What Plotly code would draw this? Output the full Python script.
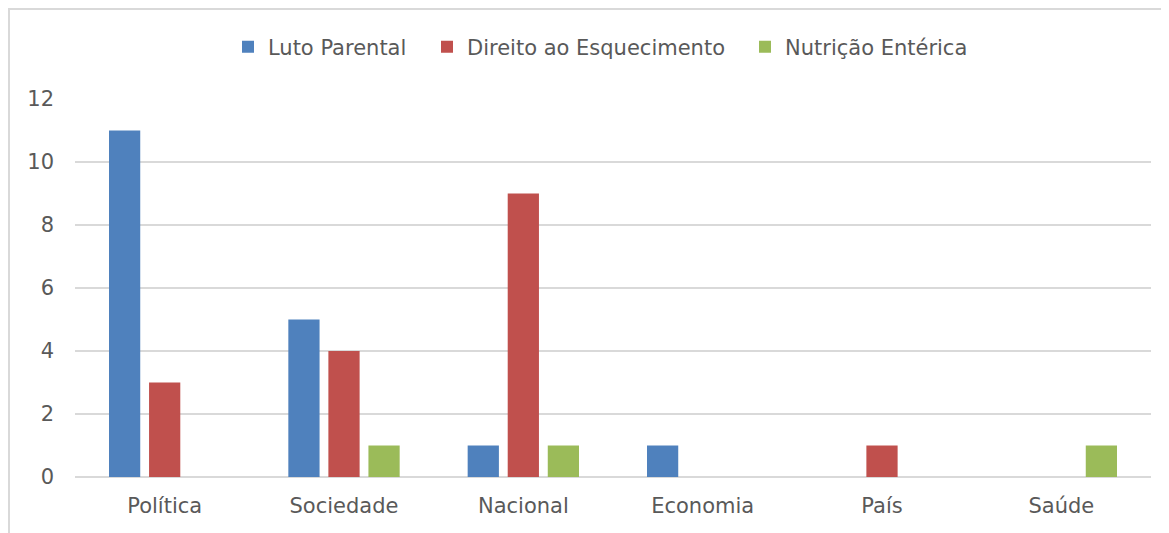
import plotly.graph_objects as go

categories = ["Política", "Sociedade", "Nacional", "Economia", "País", "Saúde"]
luto_parental = [11, 5, 1, 1, 0, 0]
direito_esquecimento = [3, 4, 9, 0, 1, 0]
nutricao_enterica = [0, 1, 1, 0, 0, 1]

series = [
    ("Luto Parental", luto_parental, "#4F81BD"),
    ("Direito ao Esquecimento", direito_esquecimento, "#C0504D"),
    ("Nutrição Entérica", nutricao_enterica, "#9BBB59"),
]

# page has an 8px body margin, so the figure is a bit smaller than the window
W, H = 1161, 525
ML, MR, MT, MB = 67, 18, 91, 56
FONT = 21

fig = go.Figure()
legend_ids = ["legend", "legend2", "legend3"]
for (name, vals, col), lg in zip(series, legend_ids):
    fig.add_trace(go.Bar(x=categories, y=vals, name=name, marker_color=col,
                         marker_line_width=0, legend=lg))

# outer chart frame (left and top edges visible)
px_w = W - ML - MR
px_h = H - MT - MB
fx = (1 - ML) / px_w
fy = (H - MB - 1) / px_h
fig.add_shape(type="path", xref="paper", yref="paper",
              path=f"M {fx} -0.3 L {fx} {fy} L 1.1 {fy}",
              line=dict(color="#D9D9D9", width=2))

# one legend per series so each entry sits where the reference has it
legend_marker_x = [240, 439, 757]
legends = {}
for lg, mx in zip(legend_ids, legend_marker_x):
    legends[lg] = dict(orientation="h", x=(mx - 20) / W, xanchor="left", xref="container",
                       y=1 - 39 / H, yref="container", yanchor="middle",
                       font=dict(size=FONT, color="#595959"), itemwidth=30,
                       bgcolor="rgba(0,0,0,0)")

fig.update_layout(
    width=W, height=H,
    margin=dict(l=ML, r=MR, t=MT, b=MB, autoexpand=False),
    paper_bgcolor="white", plot_bgcolor="white",
    font=dict(family="DejaVu Sans", size=FONT, color="#595959"),
    barmode="group", bargap=0.33, bargroupgap=0.22,
    showlegend=True,
    xaxis=dict(showgrid=False, ticks="", showline=False, automargin=False,
               ticklabelstandoff=14),
    yaxis=dict(range=[0, 12], dtick=2, showgrid=True, gridcolor="#D9D9D9", gridwidth=1.5,
               zeroline=True, zerolinecolor="#D9D9D9", zerolinewidth=1.5,
               showline=False, ticks="", automargin=False, ticklabelstandoff=20),
    **legends,
)

fig.write_html("out.html")
